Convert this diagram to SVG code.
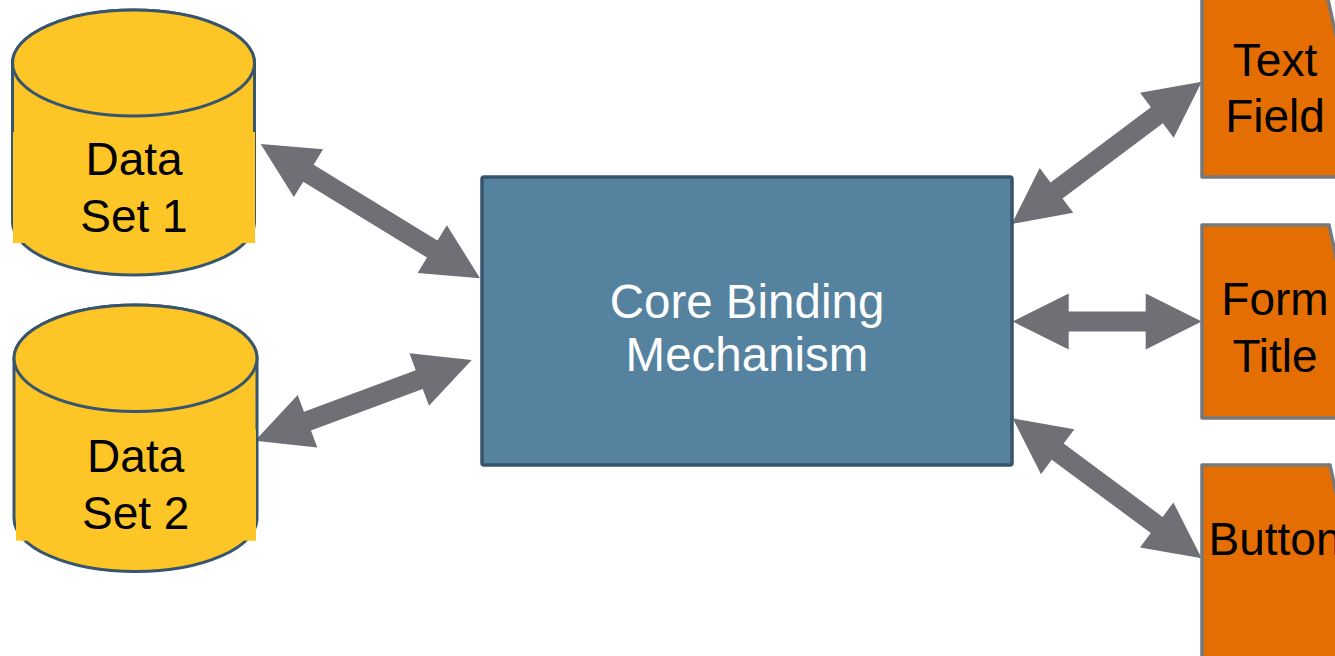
<svg xmlns="http://www.w3.org/2000/svg" width="1335" height="656" viewBox="0 0 1335 656">
<style>
.cyl{fill:#fec526;stroke:#37566e;stroke-width:3}
.tbg{fill:#fec526;stroke:none}
.core{fill:#54829f;stroke:#36546b;stroke-width:3.5}
.ui{fill:#e56e02;stroke:#77787c;stroke-width:3.5;stroke-linejoin:round}
.arr{fill:#6f7076;stroke:none}
text{font-family:"Liberation Sans",Arial,sans-serif;font-size:46px;text-anchor:middle}
.dark{fill:#000}
.light{fill:#fff;font-size:47.5px}
</style>
<rect width="1335" height="656" fill="#fff"/>
<g id="connectors">
<polygon class="arr" points="260.7,144 293.83,197.12 303.23,181.77 427.03,257.59 417.63,272.94 480,278.3 446.87,225.18 437.47,240.53 313.67,164.71 323.07,149.36"/>
<polygon class="arr" points="255,440.7 317.25,447.4 310.97,430.53 422.71,388.91 428.99,405.78 471.7,360 409.45,353.3 415.73,370.17 303.99,411.79 297.71,394.92"/>
<polygon class="arr" points="1011.7,224 1073.31,212.84 1062.52,198.43 1162.88,123.27 1173.67,137.68 1201.7,81.7 1140.09,92.86 1150.88,107.27 1050.52,182.43 1039.73,168.02"/>
<polygon class="arr" points="1012.7,321.5 1068.7,293.5 1068.7,311.5 1145.7,311.5 1145.7,293.5 1201.7,321.5 1145.7,349.5 1145.7,331.5 1068.7,331.5 1068.7,349.5"/>
<polygon class="arr" points="1012.7,418.3 1041.03,474.13 1051.75,459.67 1150.75,533.01 1140.03,547.47 1201.7,558.3 1173.37,502.47 1162.65,516.93 1063.65,443.59 1074.37,429.13"/>
</g>
<g id="dataset1">
<path class="cyl" d="M12.5,63 L12.5,222 A121,53 0 0 0 254.5,222 L254.5,63 A121,53 0 0 0 12.5,63 Z"/>
<ellipse class="cyl" cx="133.5" cy="63" rx="121" ry="53"/>
<rect class="tbg" x="13" y="132" width="242" height="111"/>
<text class="dark" x="134" y="175">Data</text>
<text class="dark" x="134" y="231.5">Set 1</text>
</g>
<g id="dataset2">
<path class="cyl" d="M14,358.3 L14,518.3 A121.5,53.3 0 0 0 257,518.3 L257,358.3 A121.5,53.3 0 0 0 14,358.3 Z"/>
<ellipse class="cyl" cx="135.5" cy="358.3" rx="121.5" ry="53.3"/>
<rect class="tbg" x="16" y="429.3" width="240" height="111.4"/>
<text class="dark" x="135.7" y="471.7">Data</text>
<text class="dark" x="135.7" y="529.3">Set 2</text>
</g>
<g id="core">
<rect class="core" x="482" y="177" width="530" height="288" rx="2"/>
<text class="light" x="747" y="318">Core Binding</text>
<text class="light" x="747" y="371">Mechanism</text>
</g>
<g id="textfield">
<path class="ui" d="M1202,-16 H1324.5 L1337,40 V177 H1202 Z"/>
<text class="dark" x="1275" y="76">Text</text>
<text class="dark" x="1275" y="132">Field</text>
</g>
<g id="formtitle">
<path class="ui" d="M1202,225 H1329 L1341,280 V418 H1202 Z"/>
<text class="dark" x="1275" y="315">Form</text>
<text class="dark" x="1275" y="372">Title</text>
</g>
<g id="button">
<path class="ui" d="M1202,465 H1330 L1342,520 V670 H1202 Z"/>
<text class="dark" x="1275" y="555">Button</text>
</g>
</svg>
